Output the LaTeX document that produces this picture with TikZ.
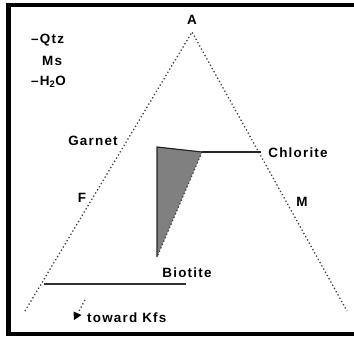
\documentclass[tikz,border=0pt]{standalone}
\usepackage{fontspec}
\setmainfont{Liberation Sans}[BoldFont={* Bold}]
\newfontfamily\lblfont{Liberation Sans Bold}[LetterSpace=9]
\begin{document}
\begin{tikzpicture}[x=1bp,y=-1bp,
  lbl/.style={font=\lblfont\fontsize{13.5}{15}\selectfont, inner sep=0pt, text=black},
  dotline/.style={line width=1.3bp, dash pattern=on 1.3bp off 2.4bp, black!75},
  solidline/.style={line width=1.2bp, black!85}]
\useasboundingbox (0,0) rectangle (354,337);
% frame
\draw[line width=4bp, miter limit=10] (354,5) -- (8.5,5) -- (8.5,334) -- (354,334);
% triangle
\coordinate (A) at (192,32);
\coordinate (L) at (25,311);
\coordinate (R) at (347,311);
\draw[dotline] (L) -- (A) -- (R);
% wedge
\coordinate (w1) at (157,147);
\coordinate (w2) at (202,152);
\coordinate (w3) at (157,257);
\coordinate (c1) at (261,152);
\fill[black!50] (w1) -- (w2) -- (w3) -- cycle;
\draw[solidline] (w3) -- (w1) -- (w2);
\draw[dotline] (w2) -- (w3);
\draw[solidline] (w2) -- (c1);
% biotite line
\coordinate (b1) at (44,284);
\coordinate (b2) at (186,284);
\draw[line width=1.5bp, black!80] (b1) -- (b2);
% arrow toward Kfs
\coordinate (k1) at (85,300);
\coordinate (k2) at (79,311);
\draw[dotline] (k1) -- (k2);
\fill[black] (73.5,311.5) -- (81.5,315) -- (74,320) -- cycle;
% labels
\node[lbl] (lA) at (192,20) {A};
\node[lbl, anchor=west] (lq) at (31,40) {–Qtz};
\node[lbl, anchor=west] (lm) at (42,61) {Ms};
\node[lbl, anchor=west] (lh) at (31,82) {–H\textsubscript{2}O};
\node[lbl] (lg) at (93,141) {Garnet};
\node[lbl] (lf) at (82,198) {F};
\node[lbl] (lM) at (302,202) {M};
\node[lbl] (lc) at (298,153) {Chlorite};
\node[lbl] (lb) at (187,273) {Biotite};
\node[lbl, anchor=west] (lk) at (87,318) {toward Kfs};
\end{tikzpicture}
\end{document}
